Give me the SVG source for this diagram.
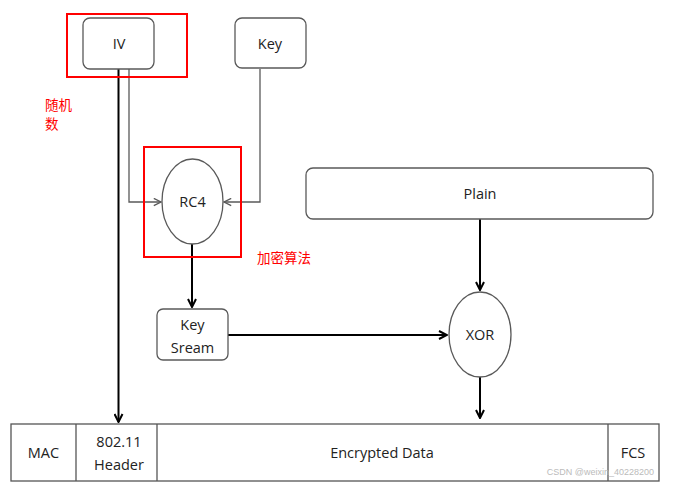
<svg xmlns="http://www.w3.org/2000/svg" width="686" height="491" viewBox="0 0 686 491">
<style>
.box{fill:#fff;stroke:#595959;stroke-width:1.3}
.t{font-family:"Open Sans","Liberation Sans",sans-serif;font-size:14.5px;fill:#222;text-anchor:middle}
.thin{fill:none;stroke:#595959;stroke-width:1.3}
.thick{fill:none;stroke:#000;stroke-width:2}
.red{fill:none;stroke:#f00;stroke-width:2}
.cn{font-family:"Noto Sans CJK SC",sans-serif;font-size:13.5px;fill:#f00}
.cell{fill:#fff;stroke:#555;stroke-width:1.3}
</style>
<defs>
<marker id="ah" viewBox="0 0 10 10" refX="9" refY="5" markerWidth="10" markerHeight="10" markerUnits="userSpaceOnUse" orient="auto"><path d="M1,1 L9,5 L1,9" fill="none" stroke="#000" stroke-width="2"/></marker>
<marker id="ahThin" viewBox="0 0 10 10" refX="9" refY="5" markerWidth="9" markerHeight="9" markerUnits="userSpaceOnUse" orient="auto"><path d="M1,1 L9,5 L1,9" fill="none" stroke="#595959" stroke-width="1.5"/></marker>
</defs>
<rect width="686" height="491" fill="#fff"/>
<g id="connectors">
<path class="thin" d="M129,69 V202 H161" marker-end="url(#ahThin)"/>
<path class="thin" d="M260,69 V202 H224" marker-end="url(#ahThin)"/>
<path class="thick" d="M118.5,69 V422" marker-end="url(#ah)"/>
<path class="thick" d="M192,244 V307" marker-end="url(#ah)"/>
<path class="thick" d="M228,335 H447" marker-end="url(#ah)"/>
<path class="thick" d="M480,219 V290" marker-end="url(#ah)"/>
<path class="thick" d="M480,377 V418" marker-end="url(#ah)"/>
</g>
<g id="iv"><rect class="box" x="83" y="18" width="71" height="51" rx="7"/><text class="t" x="119" y="49">IV</text></g>
<g id="key"><rect class="box" x="235" y="18" width="71" height="50" rx="7"/><text class="t" x="270" y="49">Key</text></g>
<g id="rc4"><ellipse class="box" cx="192.5" cy="201.5" rx="30.5" ry="42.5"/><text class="t" x="192.5" y="206.5">RC4</text></g>
<g id="plain"><rect class="box" x="306" y="168" width="347" height="51" rx="7"/><text class="t" x="480" y="199">Plain</text></g>
<g id="keystream"><rect class="box" x="157" y="309" width="71" height="51" rx="6"/><text class="t" x="192.5" y="330">Key</text><text class="t" x="192.5" y="353">Sream</text></g>
<g id="xor"><ellipse class="box" cx="480" cy="334.5" rx="31" ry="42.5"/><text class="t" x="480" y="339.5">XOR</text></g>
<g id="frame">
<rect class="cell" x="11" y="424" width="648" height="57"/>
<line class="cell" x1="76" y1="424" x2="76" y2="481"/>
<line class="cell" x1="157" y1="424" x2="157" y2="481"/>
<line class="cell" x1="608" y1="424" x2="608" y2="481"/>
<text class="t" x="43.5" y="458">MAC</text>
<text class="t" x="119" y="447">802.11</text>
<text class="t" x="119" y="470">Header</text>
<text class="t" x="382" y="458">Encrypted Data</text>
<text class="t" x="633" y="458">FCS</text>
<text x="654" y="475" text-anchor="end" font-family="'Liberation Sans',sans-serif" font-size="9" fill="#bbb">CSDN @weixin_40228200</text>
</g>
<g id="annotations">
<rect class="red" x="67" y="14" width="120" height="63"/>
<rect class="red" x="144" y="147" width="97" height="110"/>
<text class="cn" x="45" y="110">随机</text>
<text class="cn" x="45" y="129">数</text>
<text class="cn" x="257" y="263">加密算法</text>
</g>
</svg>
